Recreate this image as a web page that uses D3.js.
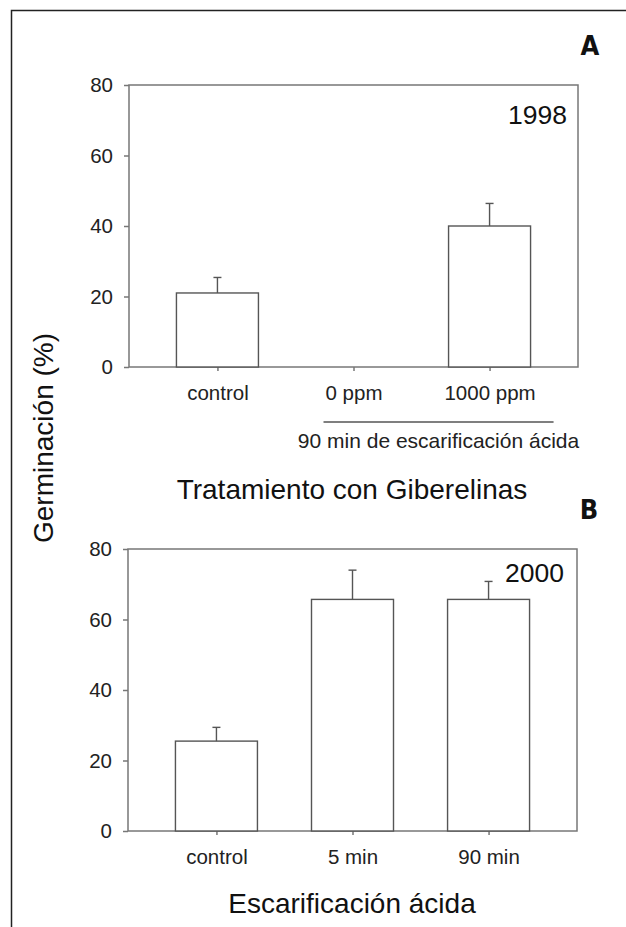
<!DOCTYPE html>
<html>
<head>
<meta charset="utf-8">
<script src="https://cdn.jsdelivr.net/npm/d3@7"></script>
<style>
  body { margin: 0; background: #fff; }
  svg { display: block; }
  svg text { font-family: "Liberation Sans", Arial, Helvetica, sans-serif; }
  .axis path, .axis line { stroke: #777; stroke-width: 1.5; }
  .axis text { font-family: "Liberation Sans", Arial, Helvetica, sans-serif; font-size: 20.5px; fill: #222; }
  svg text.panel-tag { font-family: "Liberation Sans Narrow", "DejaVu Sans Condensed", sans-serif; font-weight: bold; font-size: 27px; fill: #111; }
</style>
</head>
<body>
<svg width="626" height="927"></svg>
<script>
// germination bars, two panels

var catsA = ["control", "0 ppm", "1000 ppm"],
    meansA = [21, 0, 40],
    errA = [4.4, 0, 6.4];

var catsB = ["control", "5 min", "90 min"],
    meansB = [25.5, 65.7, 65.7],
    errB = [3.9, 8.3, 5.1];

var yTicks = [0, 20, 40, 60, 80];

var svg = d3.select("svg");

svg.append("rect").attr("width", 626).attr("height", 927).attr("fill", "#fff");

// outer frame (top and left only)
svg.append("path")
   .attr("d", "M11.5,927 V10.5 H626")
   .attr("fill", "none")
   .attr("stroke", "#222")
   .attr("stroke-width", 1.5);

var drawPanel = function(cats, means, errs, opt) {

    var x = d3.scalePoint()
              .domain(cats)
              .range([0, opt.w])
              .padding(0.65),
        y = d3.scaleLinear()
              .domain([0, 80])
              .range([opt.h, 0]);

    var g = svg.append("g")
               .attr("transform", "translate(" + opt.left + "," + opt.top + ")");

    // frame
    g.append("rect")
     .attr("width", opt.w)
     .attr("height", opt.h)
     .attr("fill", "none")
     .attr("stroke", "#777")
     .attr("stroke-width", 1.5);

    var yAxis = d3.axisLeft(y).tickValues(yTicks).tickSize(5).tickPadding(11).tickSizeOuter(0);
    g.append("g").attr("class", "axis").call(yAxis)
     .select(".domain").remove();

    var xAxis = d3.axisBottom(x).tickSize(4).tickPadding(14).tickSizeOuter(0);
    g.append("g").attr("class", "axis")
     .attr("transform", "translate(0," + opt.h + ")")
     .call(xAxis)
     .select(".domain").remove();

    var rows = cats.map(function(c, i) { return { cat: c, mean: means[i], err: errs[i] }; })
                   .filter(function(d) { return d.mean > 0; });

    var bw = 82;

    g.selectAll(".bar").data(rows).enter().append("rect")
     .attr("class", "bar")
     .attr("x", function(d) { return x(d.cat) - bw / 2; })
     .attr("y", function(d) { return y(d.mean); })
     .attr("width", bw)
     .attr("height", function(d) { return opt.h - y(d.mean); })
     .attr("fill", "#fff")
     .attr("stroke", "#555")
     .attr("stroke-width", 1.4);

    var eb = g.selectAll(".err").data(rows).enter().append("g").attr("class", "err")
              .attr("stroke", "#555").attr("stroke-width", 1.4);
    eb.append("line")
      .attr("x1", function(d) { return x(d.cat); })
      .attr("x2", function(d) { return x(d.cat); })
      .attr("y1", function(d) { return y(d.mean); })
      .attr("y2", function(d) { return y(d.mean + d.err); });
    eb.append("line")
      .attr("x1", function(d) { return x(d.cat) - 4; })
      .attr("x2", function(d) { return x(d.cat) + 4; })
      .attr("y1", function(d) { return y(d.mean + d.err); })
      .attr("y2", function(d) { return y(d.mean + d.err); });

    // year label
    g.append("text")
     .attr("x", opt.yearX)
     .attr("y", opt.yearY)
     .attr("text-anchor", "end")
     .attr("font-size", "26.5px")
     .attr("fill", "#111")
     .text(opt.year);

    return { g: g, x: x, y: y };
};

var pA = drawPanel(catsA, meansA, errA, { left: 129, top: 85, w: 449, h: 282, year: "1998", yearX: 438, yearY: 39 });
var pB = drawPanel(catsB, meansB, errB, { left: 128, top: 549, w: 449, h: 282, year: "2000", yearX: 436, yearY: 33 });

// grouping line under the two gibberellin doses
var gx0 = pA.x("0 ppm"), gx1 = pA.x("1000 ppm");
pA.g.append("line")
    .attr("x1", gx0 - 30).attr("x2", gx1 + 64)
    .attr("y1", 337).attr("y2", 337)
    .attr("stroke", "#555").attr("stroke-width", 1.4);
pA.g.append("text")
    .attr("x", (gx0 + gx1) / 2 + 17)
    .attr("y", 363)
    .attr("text-anchor", "middle")
    .attr("font-size", "21px")
    .attr("fill", "#222")
    .text("90 min de escarificación ácida");

// axis titles
svg.append("text")
   .attr("x", 352).attr("y", 499)
   .attr("text-anchor", "middle")
   .attr("font-size", "28px")
   .attr("fill", "#111")
   .text("Tratamiento con Giberelinas");

svg.append("text")
   .attr("x", 352).attr("y", 913)
   .attr("text-anchor", "middle")
   .attr("font-size", "28px")
   .attr("fill", "#111")
   .text("Escarificación ácida");

svg.append("text")
   .attr("transform", "translate(53,438) rotate(-90)")
   .attr("text-anchor", "middle")
   .attr("font-size", "28px")
   .attr("fill", "#111")
   .text("Germinación (%)");

// panel tags
svg.append("text").attr("class", "panel-tag").attr("x", 590).attr("y", 55)
   .attr("text-anchor", "middle").text("A");
svg.append("text").attr("class", "panel-tag").attr("x", 589).attr("y", 519)
   .attr("text-anchor", "middle").text("B");
</script>
</body>
</html>
